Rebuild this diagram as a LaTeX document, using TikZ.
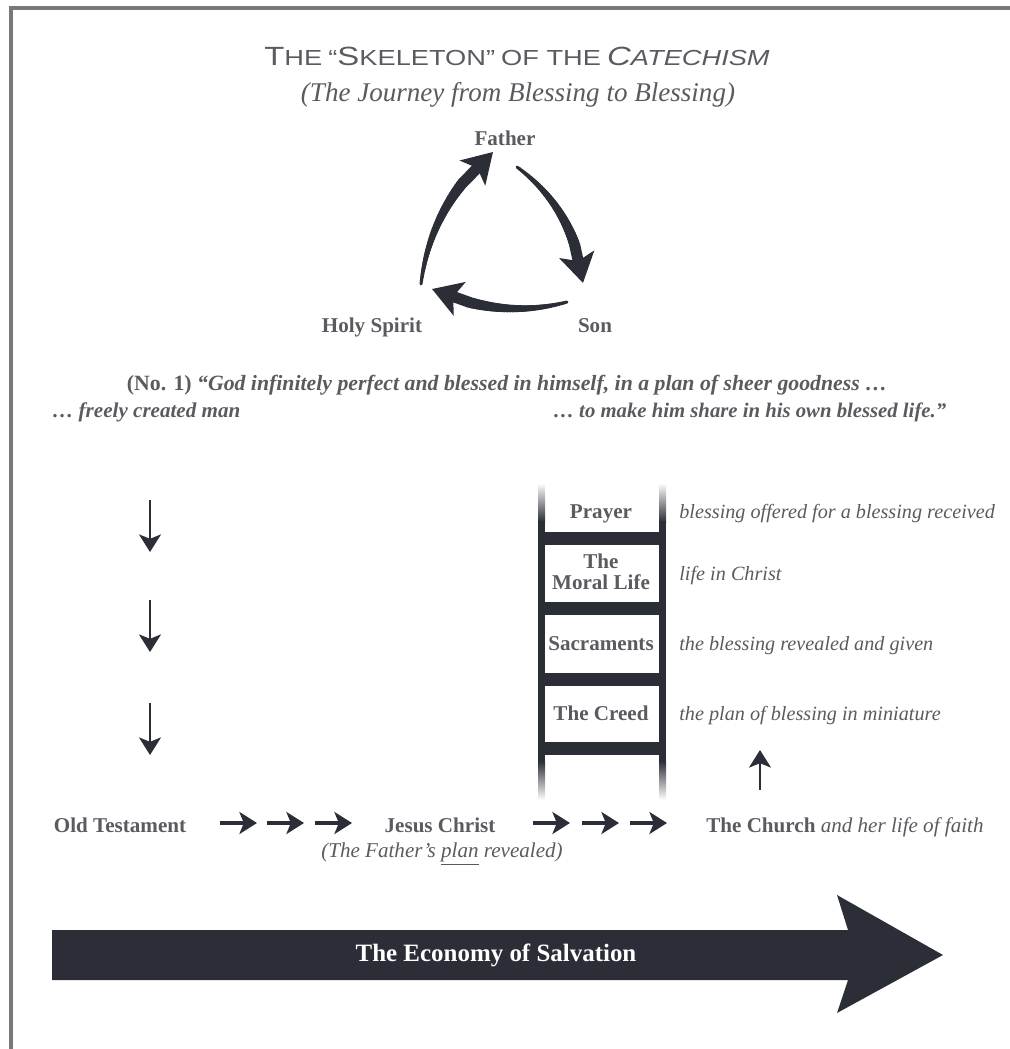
\documentclass[tikz,border=0pt]{standalone}
\usepackage{fontspec}
\setmainfont{Liberation Serif}
\newfontfamily\capsfont[FakeStretch=1.25]{Liberation Sans}
\usepackage{tikz}
\usetikzlibrary{arrows.meta}
\usetikzlibrary{calc}
\usetikzlibrary{positioning}

\definecolor{ink}{HTML}{2B2E36}
\definecolor{txt}{HTML}{5A5B60}
\definecolor{framegray}{HTML}{77787C}

\newcommand{\capword}[2]{{\fontsize{15}{17}\selectfont #1}{\fontsize{12.4}{14}\selectfont #2}}

\tikzset{
  namebox/.style={font=\bfseries\fontsize{12}{11.5}\selectfont, text=txt, inner sep=0pt, anchor=base},
  glosstext/.style={font=\itshape\fontsize{11.5}{13}\selectfont, text=txt, inner sep=0pt, anchor=base west},
  quotetext/.style={font=\bfseries\itshape\fontsize{12}{13}\selectfont, text=txt, inner sep=0pt, anchor=base},
  heading/.style={font=\capsfont, text=txt, inner sep=0pt, anchor=base},
  flowarrow/.style={ink, line width=1.8pt, -{Stealth[length=10pt, width=12.5pt, inset=2.5pt]}},
  railfill/.style={fill=ink},
  frame/.style={framegray, line width=0.08cm}
}

\begin{document}
\begin{tikzpicture}[x=0.02cm, y=-0.02cm]
\useasboundingbox (0,0) rectangle (1010,1049);
\draw[frame] (11,1049) -- (11,8) -- (1010,8);

\node[heading] (title) at (517,65) {\capword{T}{HE} \capword{}{“}\capword{S}{KELETON”} \capword{}{OF THE} \itshape\capword{C}{ATECHISM}};
\node[glosstext, anchor=base, font=\itshape\fontsize{15.4}{17}\selectfont] (subtitle) at (518,101) {(The Journey from Blessing to Blessing)};

% the three persons
\node[namebox] (father) at (505,145) {Father};
\node[namebox] (spirit) at (372,332) {Holy Spirit};
\node[namebox] (son) at (595,332) {Son};

\foreach \ax/\ay/\cx/\cy/\bx/\by in {421/284/431/204/493/152, 517/167/575/210/583/283, 567/302/500/320/432/289} {
  \coordinate (a) at (\ax,\ay);
  \coordinate (c) at (\cx,\cy);
  \coordinate (b) at (\bx,\by);
  \foreach \p in {0,0.02,...,0.72} {
    \pgfmathsetmacro\q{\p+0.025}
    \pgfmathsetmacro\lw{0.06+0.22*\p}
    \draw[ink, line width=\lw cm, line cap=round] ($($(a)!\p!(c)$)!\p!($(c)!\p!(b)$)$) -- ($($(a)!\q!(c)$)!\q!($(c)!\q!(b)$)$);
  }
  \draw[ink, line width=0.22cm, -{Stealth[length=0.58cm, width=0.7cm, inset=0.13cm]}] ($($(a)!0.72!(c)$)!0.72!($(c)!0.72!(b)$)$) -- (b);
}

\node[quotetext, font=\bfseries\itshape\fontsize{12.4}{13}\selectfont] (opening) at (507,390) {\upshape(No. 1) \itshape“God infinitely perfect and blessed in himself, in a plan of sheer goodness …};
\node[quotetext, anchor=base west] (created) at (52,417) {… freely created man};
\node[quotetext, anchor=base west, font=\bfseries\itshape\fontsize{11.8}{13}\selectfont] (share) at (553,417) {… to make him share in his own blessed life.”};

% ladder
\foreach \x in {541.5,662.5} {
  \shade[top color=white, bottom color=ink] ({\x-3.5},483) rectangle ({\x+3.5},522);
  \fill[ink] ({\x-3.5},521) rectangle ({\x+3.5},762);
  \shade[top color=ink, bottom color=white] ({\x-3.5},761) rectangle ({\x+3.5},800);
}
\foreach \y in {538,608,679,748}
  \fill[railfill] (545,{\y-6.5}) rectangle (659,{\y+6.5});

\node[namebox] (prayer) at (601,518) {Prayer};
\node[namebox, align=center] (moral) at (601,589) {The\\Moral Life};
\node[namebox] (sacraments) at (601,650) {Sacraments};
\node[namebox] (creed) at (601,720) {The Creed};

\node[glosstext] (offered) at (679,518) {blessing offered for a blessing received};
\node[glosstext] (inchrist) at (679,580) {life in Christ};
\node[glosstext] (given) at (679,650) {the blessing revealed and given};
\node[glosstext] (miniature) at (679,720) {the plan of blessing in miniature};

% arrows
\foreach \y [count=\i] in {500,600,703} {
  \coordinate (down\i) at (150,\y);
  \coordinate (downend\i) at (150,\y+52);
  \draw[flowarrow, line width=1.4pt] (down\i) -- (downend\i);
}
\coordinate (lift) at (760,790);
\coordinate (liftend) at (760,750);
\draw[flowarrow, line width=1.4pt] (lift) -- (liftend);

\node[namebox] (oldtest) at (120,832) {Old Testament};
\node[namebox] (jesus) at (440,832) {Jesus Christ};
\node[namebox, anchor=base west] (church) at (706,832) {The Church \mdseries\itshape and her life of faith};
\node[glosstext, anchor=base, font=\itshape\fontsize{12}{13}\selectfont] (plan) at (442,857) {(The Father’s \underline{plan} revealed)};

\foreach \x [count=\i] in {220,267,315,533,582,630} {
  \coordinate (from\i) at (\x,823);
  \coordinate (to\i) at (\x+37,823);
  \draw[flowarrow] (from\i) -- (to\i);
}

% economy
\fill[ink] (52,930) -- (848,930) -- (837,895) -- (943,955) -- (837,1013) -- (848,980) -- (52,980) -- cycle;
\node[namebox, text=white, font=\bfseries\fontsize{14.2}{16}\selectfont] (economy) at (496,961) {The Economy of Salvation};
\end{tikzpicture}
\end{document}
